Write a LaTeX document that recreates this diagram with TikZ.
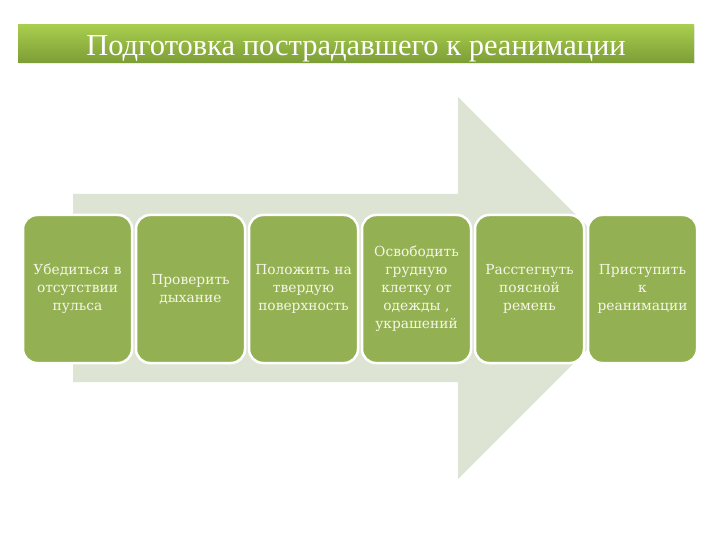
\documentclass[tikz,border=0pt]{standalone}
\usepackage{fontspec}
\setmainfont{Liberation Serif}
\newfontfamily\stepfont{DejaVu Serif}
\usetikzlibrary{positioning,shadows}

\definecolor{arrowgrey}{HTML}{DEE4D3}
\definecolor{stepgreen}{HTML}{93B152}
\definecolor{steptext}{HTML}{F6F6E8}
\definecolor{titletop}{HTML}{A9CD4E}
\definecolor{titlebottom}{HTML}{7C9D36}

\tikzset{
  stepbox/.style={rounded corners=14pt, fill=stepgreen, draw=white, line width=2.5pt,
    minimum width=109pt, minimum height=148pt, text width=107pt, align=center,
    text=steptext, font=\stepfont\fontsize{13.8}{18}\selectfont, inner sep=0pt},
  titlebar/.style={top color=titletop, bottom color=titlebottom, draw=none,
    minimum width=676pt, minimum height=38pt, inner sep=0pt,
    drop shadow={opacity=0.15, shadow xshift=1pt, shadow yshift=-1.5pt}},
  titletext/.style={text=white, font=\fontsize{30.5}{33}\selectfont, inner sep=0pt},
}

\begin{document}
\begin{tikzpicture}[x=1pt, y=-1pt]
	\useasboundingbox (0,0) rectangle (720,540);

	% Title
	\node[titlebar] (title) at (356,44) {};
	\node[titletext] (titlelbl) at ([yshift=-4.5pt]title.center) {Подготовка пострадавшего к реанимации};

	% Big arrow
	\fill[arrowgrey] (73,194) -- (458,194) -- (458,97) -- (649,288) -- (458,479) -- (458,382) -- (73,382) -- cycle;

	% Steps
	\node[stepbox] (s1) at (77.5,289) {Убедиться в\\отсутствии\\пульса};
	\node[stepbox, right=1.5pt of s1] (s2) {Проверить\\дыхание};
	\node[stepbox, right=1.5pt of s2] (s3) {Положить на\\твердую\\поверхность};
	\node[stepbox, right=1.5pt of s3] (s4) {Освободить\\грудную\\клетку от\\одежды ,\\украшений};
	\node[stepbox, right=1.5pt of s4] (s5) {Расстегнуть\\поясной\\ремень};
	\node[stepbox, right=1.5pt of s5] (s6) {Приступить\\к\\реанимации};
\end{tikzpicture}
\end{document}
